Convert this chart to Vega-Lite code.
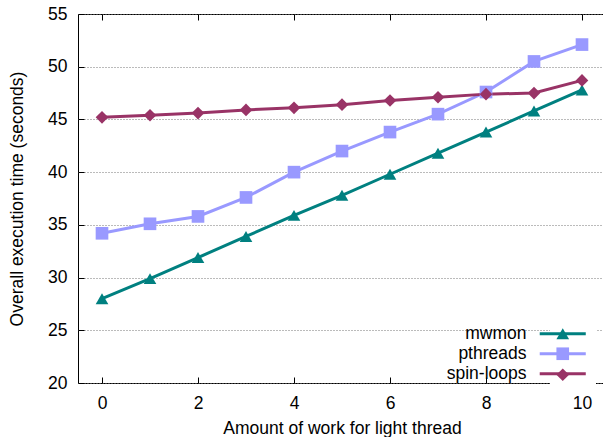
{
  "$schema": "https://vega.github.io/schema/vega-lite/v6.json",
  "width": 528,
  "height": 369,
  "autosize": {"type": "none"},
  "padding": {"left": 78, "top": 14, "right": 0, "bottom": 54},
  "background": "white",
  "config": {"font": "Liberation Sans", "view": {"stroke": "black", "strokeWidth": 1}},
  "data": {"values": [
    {"series": "mwmon", "work": 0, "time": 28.0},
    {"series": "mwmon", "work": 1, "time": 29.9},
    {"series": "mwmon", "work": 2, "time": 31.9},
    {"series": "mwmon", "work": 3, "time": 33.9},
    {"series": "mwmon", "work": 4, "time": 35.9},
    {"series": "mwmon", "work": 5, "time": 37.8},
    {"series": "mwmon", "work": 6, "time": 39.8},
    {"series": "mwmon", "work": 7, "time": 41.8},
    {"series": "mwmon", "work": 8, "time": 43.8},
    {"series": "mwmon", "work": 9, "time": 45.8},
    {"series": "mwmon", "work": 10, "time": 47.8},
    {"series": "pthreads", "work": 0, "time": 34.2},
    {"series": "pthreads", "work": 1, "time": 35.1},
    {"series": "pthreads", "work": 2, "time": 35.8},
    {"series": "pthreads", "work": 3, "time": 37.6},
    {"series": "pthreads", "work": 4, "time": 40.0},
    {"series": "pthreads", "work": 5, "time": 42.0},
    {"series": "pthreads", "work": 6, "time": 43.8},
    {"series": "pthreads", "work": 7, "time": 45.5},
    {"series": "pthreads", "work": 8, "time": 47.6},
    {"series": "pthreads", "work": 9, "time": 50.5},
    {"series": "pthreads", "work": 10, "time": 52.1},
    {"series": "spin-loops", "work": 0, "time": 45.2},
    {"series": "spin-loops", "work": 1, "time": 45.4},
    {"series": "spin-loops", "work": 2, "time": 45.6},
    {"series": "spin-loops", "work": 3, "time": 45.9},
    {"series": "spin-loops", "work": 4, "time": 46.1},
    {"series": "spin-loops", "work": 5, "time": 46.4},
    {"series": "spin-loops", "work": 6, "time": 46.8},
    {"series": "spin-loops", "work": 7, "time": 47.1},
    {"series": "spin-loops", "work": 8, "time": 47.4},
    {"series": "spin-loops", "work": 9, "time": 47.5},
    {"series": "spin-loops", "work": 10, "time": 48.7}
  ]},
  "encoding": {
    "y": {
      "field": "time", "type": "quantitative",
      "scale": {"domain": [20, 55], "nice": false, "zero": false},
      "axis": {
        "values": [20, 25, 30, 35, 40, 45, 50, 55], "grid": true,
        "gridDash": [1, 2], "gridColor": "#777", "gridWidth": 1,
        "domain": false, "tickSize": -6, "tickColor": "black", "labelPadding": 17,
        "labelFontSize": 17.5, "labelColor": "black",
        "title": "Overall execution time (seconds)", "titleFontSize": 17.5,
        "titleFontWeight": "normal", "titleColor": "black", "titlePadding": 21
      }
    }
  },
  "layer": [
    {
      "mark": {"type": "line", "strokeWidth": 3},
      "encoding": {
        "x": {
          "field": "work", "type": "quantitative",
          "scale": {"domain": [-0.5, 10.5], "nice": false, "zero": false},
          "axis": {
            "orient": "bottom",
            "values": [0, 2, 4, 6, 8, 10], "grid": false, "domain": false,
            "tickSize": -6, "tickColor": "black", "labelPadding": 17,
            "labelFontSize": 17.5, "labelColor": "black",
            "title": "Amount of work for light thread", "titleFontSize": 17.5,
            "titleFontWeight": "normal", "titleColor": "black", "titlePadding": 8
          }
        },
        "stroke": {
          "field": "series", "type": "nominal",
          "scale": {"range": ["#008080", "#9999ff", "#993366"]},
          "legend": {
            "orient": "none", "legendX": 472, "legendY": 307, "zindex": 0,
            "title": null, "symbolType": "M-3.64,0H3.64", "symbolSize": 160,
            "symbolStrokeWidth": 3, "labelAlign": "right", "labelOffset": -45,
            "labelFontSize": 17.5, "labelColor": "black", "rowPadding": 1,
            "fillColor": "white", "padding": 4
          }
        }
      }
    },
    {
      "mark": {"type": "point", "filled": true, "opacity": 1, "size": 160},
      "encoding": {
        "x": {
          "field": "work", "type": "quantitative",
          "scale": {"domain": [-0.5, 10.5], "nice": false, "zero": false},
          "axis": {
            "orient": "top", "values": [0, 2, 4, 6, 8, 10], "grid": false, "domain": false,
            "tickSize": -6, "tickColor": "black", "labels": false, "title": null
          }
        },
        "color": {
          "field": "series", "type": "nominal",
          "scale": {"domain": ["mwmon", "pthreads", "spin-loops"], "range": ["#008080", "#9999ff", "#993366"]},
          "legend": {
            "orient": "none", "legendX": 472, "legendY": 307, "zindex": 1,
            "title": null, "symbolSize": 160, "symbolOpacity": 1,
            "labelOpacity": 0, "labelAlign": "right", "labelOffset": -45,
            "labelFontSize": 17.5, "rowPadding": 1, "padding": 4
          }
        },
        "shape": {
          "field": "series", "type": "nominal",
          "scale": {"domain": ["mwmon", "pthreads", "spin-loops"], "range": ["triangle-up", "square", "diamond"]}
        }
      }
    }
  ],
  "resolve": {"axis": {"x": "independent"}}
}
